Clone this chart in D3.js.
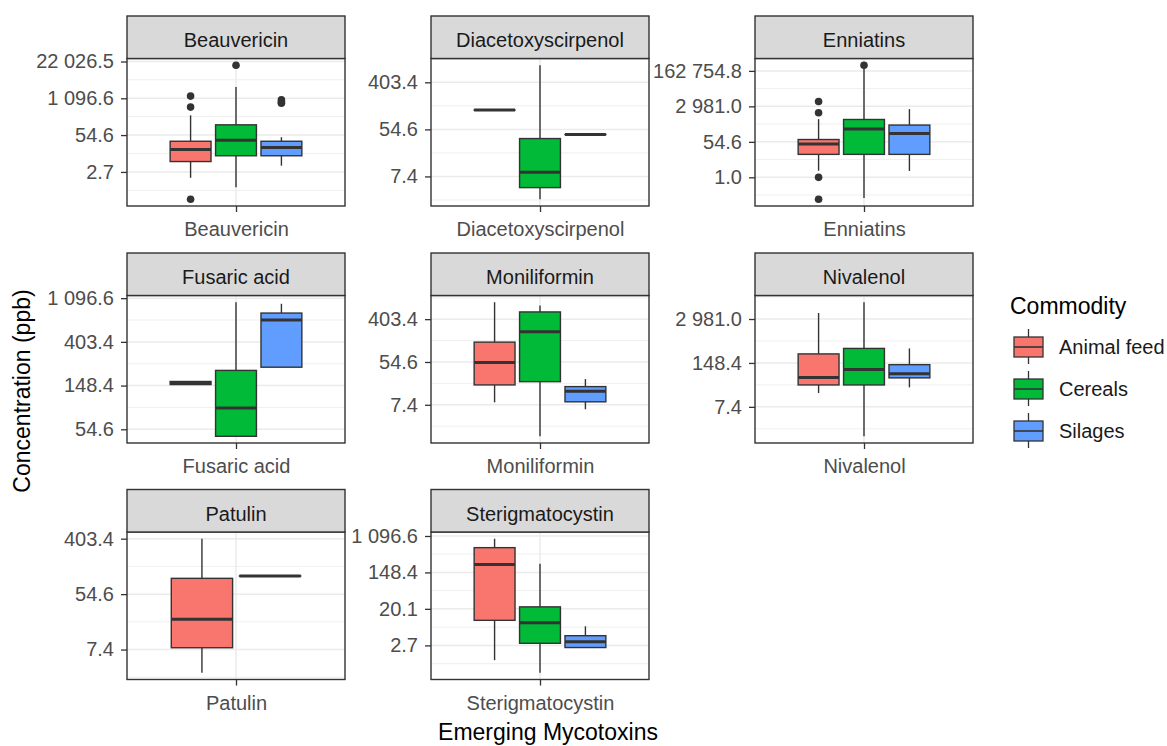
<!DOCTYPE html>
<html>
<head>
<meta charset="utf-8">
<script src="https://cdn.jsdelivr.net/npm/d3@7"></script>
<style>
  body { margin: 0; background: #fff; }
  text { font-family: "Liberation Sans", Arial, sans-serif; }
</style>
</head>
<body>
<div id="chart"></div>
<script>
// facets, in drawing order
const mycotoxins = ["Beauvericin", "Diacetoxyscirpenol", "Enniatins",
  "Fusaric acid", "Moniliformin", "Nivalenol",
  "Patulin", "Sterigmatocystin"]
const commodities = ["Animal feed", "Cereals", "Silages"]

// box stats per toxin: [lower whisker, q1, median, q3, upper whisker] (ppb), null = no data
const feedStats = [
  [1.67, 6.3, 16.8, 33, 273],
  [124, 124, 124, 124, 124],
  [2.1, 13.3, 42.5, 71, 710],
  [152, 152, 158, 163, 163],
  [8.3, 18.7, 53.5, 138, 890],
  [19, 33, 55, 275, 4500],
  [3.2, 7.9, 22, 96.5, 403],
  [1.2, 10.7, 228, 578, 945]
]
const cerealStats = [
  [0.77, 10.1, 36, 126, 2750],
  [2.8, 4.6, 8.8, 37, 835],
  [0.098, 13.3, 230, 680, 255000],
  [46.5, 46.5, 89, 210, 1000],
  [1.7, 21.8, 224, 565, 760],
  [0.99, 33, 95, 400, 9400],
  null,
  [0.6, 3.03, 9.4, 22.4, 240]
]
const silageStats = [
  [4.5, 10.1, 20, 33, 46],
  [44, 44, 44, 44, 44],
  [2.05, 13.3, 141, 362, 2190],
  [226, 226, 665, 780, 965],
  [6.0, 8.5, 13.9, 17.3, 24.6],
  [28, 53.5, 71, 132, 400],
  [105, 105, 105, 105, 105],
  [2.4, 2.4, 3.3, 4.6, 7.7]
]

// outliers (ppb)
const feedOutliers = [[0.29, 534, 1313], [], [0.084, 1.0, 1450, 5150], [], [], [], [], []]
const cerealOutliers = [[16300], [], [309000], [], [], [], [], []]
const silageOutliers = [[730, 820, 965], [], [], [], [], [], [], []]

// y tick labels per facet
const yTicks = [
  [2.7, 54.6, 1096.6, 22026.5],
  [7.4, 54.6, 403.4],
  [1.0, 54.6, 2981.0, 162754.8],
  [54.6, 148.4, 403.4, 1096.6],
  [7.4, 54.6, 403.4],
  [7.4, 148.4, 2981.0],
  [7.4, 54.6, 403.4],
  [2.7, 20.1, 148.4, 1096.6]
]

const fills = ["#F8766D", "#00BA38", "#619CFF"]

const width = 1167, height = 746
const colLeft = [127, 431, 755]
const rowTop = [16, 253, 489.5]
const pw = 218, stripH = 42.5, ph = 147.5

const fmt = d3.formatLocale({decimal: ".", thousands: " ", grouping: [3], currency: ["", ""]}).format(",.1f")

let svg = d3.select('#chart')
  .append('svg')
  .attr('width', width)
  .attr('height', height)

svg.append('rect').attr('width', width).attr('height', height).attr('fill', '#fff')

const statsBy = [feedStats, cerealStats, silageStats]
const outBy = [feedOutliers, cerealOutliers, silageOutliers]

mycotoxins.forEach((name, i) => {
  const left = colLeft[i % 3]
  const top = rowTop[Math.floor(i / 3)]
  const g = svg.append('g').attr('transform', `translate(${left},${top + stripH})`)

  // groups present in this facet
  let groups = []
  commodities.forEach((c, k) => {
    if (statsBy[k][i]) groups.push({k: k, s: statsBy[k][i], out: outBy[k][i]})
  })

  // free y scale, log, 5% padding like ggplot
  let logs = []
  groups.forEach(d => { d.s.concat(d.out).forEach(v => logs.push(Math.log(v))) })
  const lo = d3.min(logs), hi = d3.max(logs), pad = (hi - lo) * 0.05
  const y = d3.scaleLog().domain([Math.exp(lo - pad), Math.exp(hi + pad)]).range([ph, 0])
  const x = d3.scaleLinear().domain([0.4, 1.6]).range([0, pw])

  // grid
  const lt = yTicks[i].map(Math.log)
  const step = lt[1] - lt[0]
  let minors = []
  for (let m = lt[0] - step / 2; m < hi + pad + step; m += step) {
    if (m > lo - pad && m < hi + pad) minors.push(Math.exp(m))
  }
  g.selectAll('.minor').data(minors).enter().append('line')
    .attr('x1', 0).attr('x2', pw)
    .attr('y1', d => y(d)).attr('y2', d => y(d))
    .attr('stroke', '#EBEBEB').attr('stroke-width', 0.8)
  g.selectAll('.major').data(yTicks[i]).enter().append('line')
    .attr('x1', 0).attr('x2', pw)
    .attr('y1', d => y(d)).attr('y2', d => y(d))
    .attr('stroke', '#EBEBEB').attr('stroke-width', 1.5)
  g.append('line').attr('x1', x(1)).attr('x2', x(1)).attr('y1', 0).attr('y2', ph)
    .attr('stroke', '#EBEBEB').attr('stroke-width', 1.5)

  // boxes, dodged
  const n = groups.length
  const slot = 0.75 / n
  groups.forEach((d, j) => {
    const cx = x(1 - 0.375 + (j + 0.5) * slot)
    const bw = x(0.4 + slot * 0.9) - x(0.4)
    const s = d.s
    g.append('line').attr('x1', cx).attr('x2', cx).attr('y1', y(s[0])).attr('y2', y(s[1]))
      .attr('stroke', '#333').attr('stroke-width', 1.4)
    g.append('line').attr('x1', cx).attr('x2', cx).attr('y1', y(s[3])).attr('y2', y(s[4]))
      .attr('stroke', '#333').attr('stroke-width', 1.4)
    g.append('rect')
      .attr('x', cx - bw / 2).attr('width', bw)
      .attr('y', y(s[3])).attr('height', Math.max(y(s[1]) - y(s[3]), 0.01))
      .attr('fill', fills[d.k]).attr('stroke', '#333').attr('stroke-width', 1.4)
    g.append('line').attr('x1', cx - bw / 2).attr('x2', cx + bw / 2)
      .attr('y1', y(s[2])).attr('y2', y(s[2]))
      .attr('stroke', '#333').attr('stroke-width', 3)
    g.selectAll(null).data(d.out).enter().append('circle')
      .attr('cx', cx).attr('cy', v => y(v)).attr('r', 3.8).attr('fill', '#333')
  })

  // panel border + strip
  g.append('rect').attr('width', pw).attr('height', ph)
    .attr('fill', 'none').attr('stroke', '#333').attr('stroke-width', 1.4)
  g.append('rect').attr('y', -stripH).attr('width', pw).attr('height', stripH)
    .attr('fill', '#D9D9D9').attr('stroke', '#333').attr('stroke-width', 1.4)
  g.append('text').attr('x', pw / 2).attr('y', -stripH + 31)
    .attr('text-anchor', 'middle').attr('font-size', 20).attr('fill', '#1A1A1A')
    .text(name)

  // axes
  let axisY = g.append('g').call(d3.axisLeft(y).tickValues(yTicks[i]).tickFormat(fmt).tickSize(6).tickPadding(7))
  let axisX = g.append('g').attr('transform', `translate(0,${ph})`)
    .call(d3.axisBottom(x).tickValues([1]).tickFormat(() => name).tickSize(6).tickPadding(10))
  ;[axisY, axisX].forEach(a => {
    a.select('.domain').remove()
    a.selectAll('line').attr('stroke', '#333').attr('stroke-width', 1.3)
    a.selectAll('text').attr('fill', '#4D4D4D').attr('font-size', 20)
      .attr('font-family', '"Liberation Sans", Arial, sans-serif')
  })
})

// titles
svg.append('text').attr('x', 548).attr('y', 740).attr('text-anchor', 'middle')
  .attr('font-size', 23).attr('fill', '#000').text('Emerging Mycotoxins')
svg.append('text').attr('transform', 'translate(30,391) rotate(-90)').attr('text-anchor', 'middle')
  .attr('font-size', 23).attr('fill', '#000').text('Concentration (ppb)')

// legend
const leg = svg.append('g').attr('transform', 'translate(1014,0)')
leg.append('text').attr('x', -4).attr('y', 314).attr('font-size', 23).attr('fill', '#000').text('Commodity')
const legY = d3.scalePoint().domain(commodities).range([347, 431])
commodities.forEach((c, k) => {
  const cy = legY(c)
  leg.append('line').attr('x1', 14.5).attr('x2', 14.5).attr('y1', cy - 18).attr('y2', cy + 17)
    .attr('stroke', '#333').attr('stroke-width', 1.3)
  leg.append('rect').attr('x', 0).attr('y', cy - 10).attr('width', 29).attr('height', 20)
    .attr('fill', fills[k]).attr('stroke', '#333').attr('stroke-width', 1.3)
  leg.append('line').attr('x1', 0).attr('x2', 29).attr('y1', cy).attr('y2', cy)
    .attr('stroke', '#333').attr('stroke-width', 1.6)
  leg.append('text').attr('x', 45).attr('y', cy + 7).attr('font-size', 20).attr('fill', '#1A1A1A').text(c)
})
</script>
</body>
</html>
